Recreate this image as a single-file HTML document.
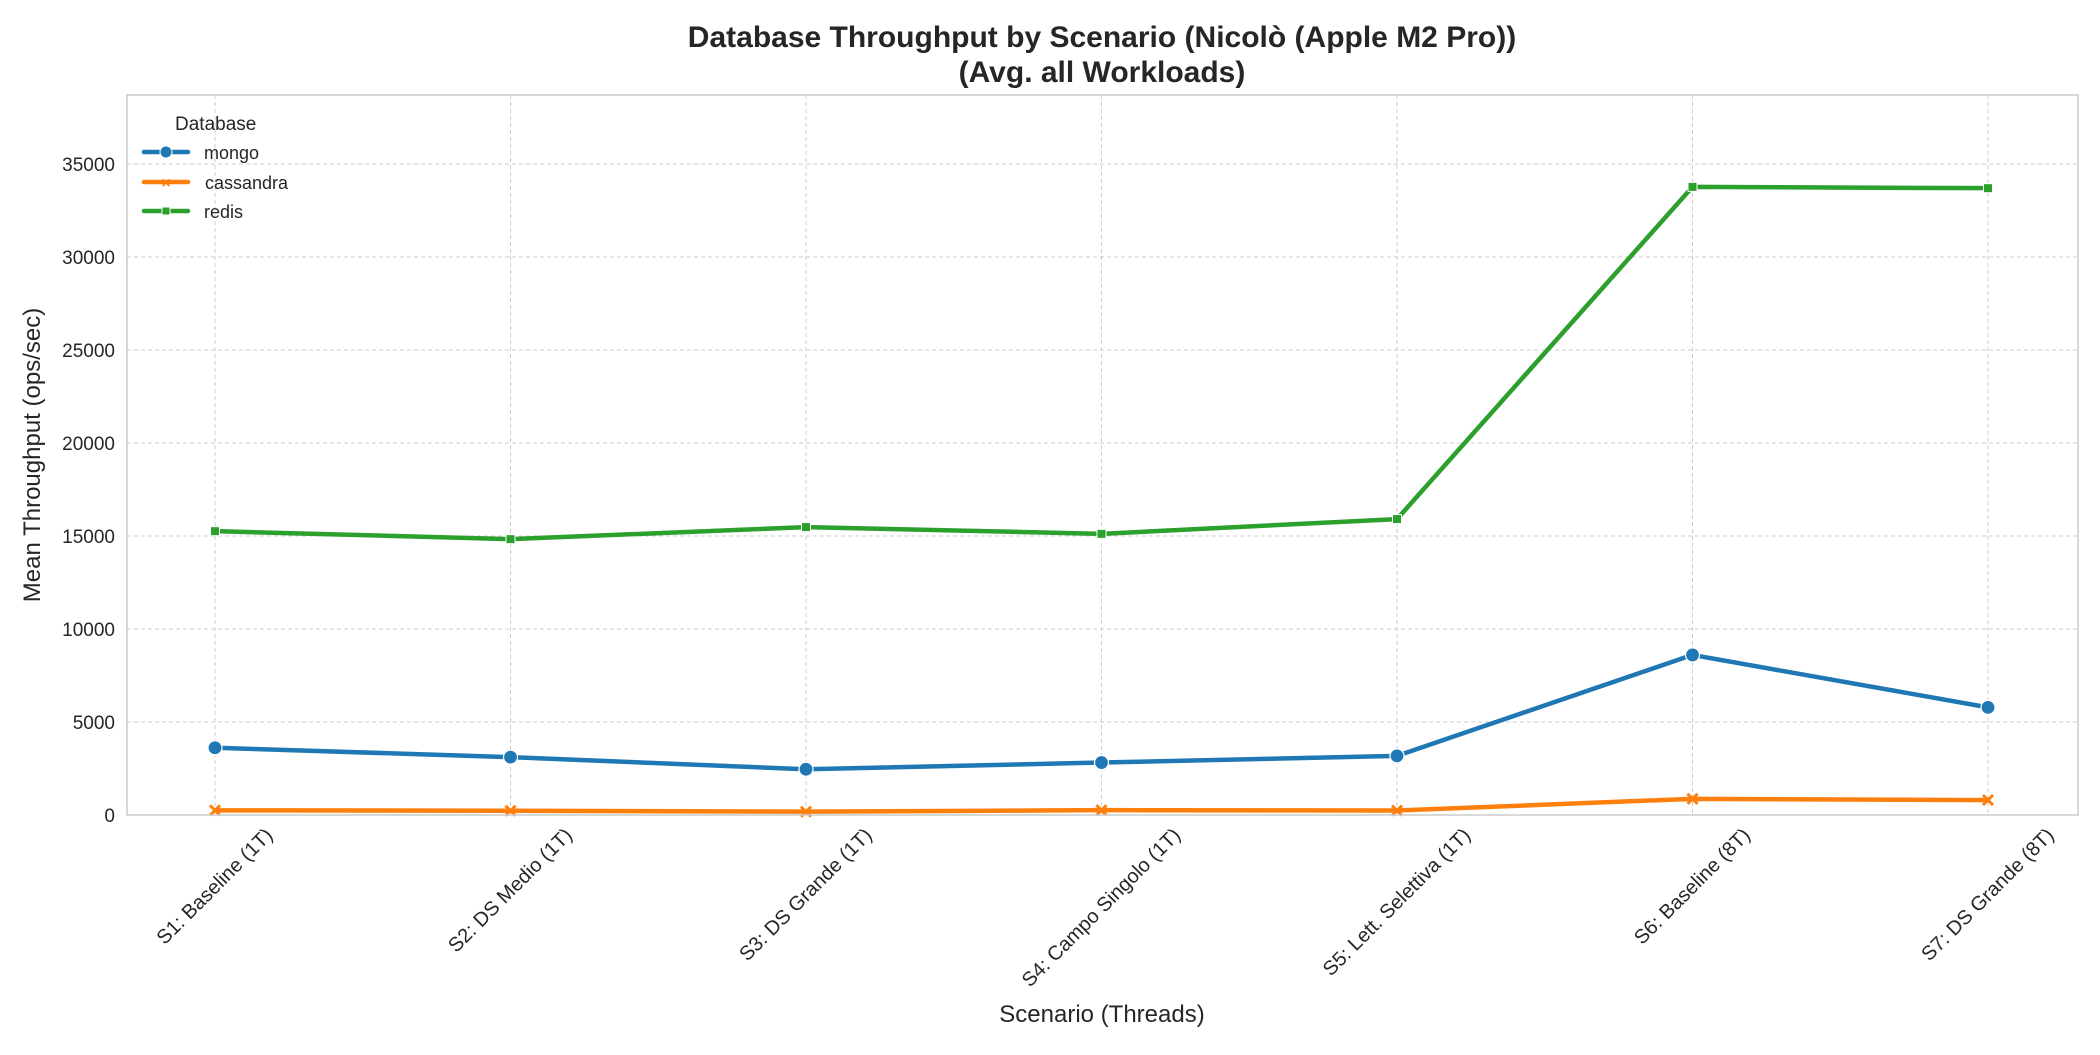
<!DOCTYPE html>
<html><head><meta charset="utf-8"><style>
body{margin:0;background:#fff;}
svg text{font-family:"Liberation Sans",sans-serif;fill:#262626;}
</style></head><body>
<svg id="chart" width="2100" height="1050" viewBox="0 0 2100 1050">
<text x="1102" y="47" text-anchor="middle" font-size="30" font-weight="bold">Database Throughput by Scenario (Nicolò (Apple M2 Pro))</text>
<text x="1102" y="82" text-anchor="middle" font-size="30" font-weight="bold">(Avg. all Workloads)</text>
<g id="grid"></g><g id="series"></g><g id="axes"></g>
<text x="1102" y="1022" text-anchor="middle" font-size="24">Scenario (Threads)</text>
<text transform="translate(40,455) rotate(-90)" text-anchor="middle" font-size="24">Mean Throughput (ops/sec)</text>
<g>
<text x="175" y="130" font-size="19">Database</text>
<g><line x1="144" y1="152" x2="188" y2="152" stroke="#1f77b4" stroke-width="4.5" stroke-linecap="round"/><circle cx="166" cy="152" r="6" fill="#1f77b4" stroke="#fff" stroke-width="1"/><text x="204" y="159" font-size="18">mongo</text></g>
<g><line x1="144" y1="182" x2="188" y2="182" stroke="#ff7f0e" stroke-width="4.5" stroke-linecap="round"/><text x="166" y="188" text-anchor="middle" font-size="16" font-weight="bold" style="fill:#ff7f0e">×</text><text x="205" y="189" font-size="18">cassandra</text></g>
<g><line x1="144" y1="211" x2="188" y2="211" stroke="#2ca02c" stroke-width="4.5" stroke-linecap="round"/><rect x="162" y="207" width="8" height="8" fill="#2ca02c" stroke="#fff" stroke-width="1"/><text x="204" y="218" font-size="18">redis</text></g>
</g>
</svg>
<script>
const categories=["S1: Baseline (1T)","S2: DS Medio (1T)","S3: DS Grande (1T)","S4: Campo Singolo (1T)","S5: Lett. Selettiva (1T)","S6: Baseline (8T)","S7: DS Grande (8T)"];
const mongo=[3616,3110,2460,2820,3180,8606,5786];
const cassandra=[250,230,180,260,240,870,800];
const redis=[15260,14830,15480,15115,15910,33770,33700];
const yTicks=[0,5000,10000,15000,20000,25000,30000,35000];
const L=127,R=2078,T=95,B=815,YMAX=38710;
const NS="http://www.w3.org/2000/svg";
const x=i=>215+i*(1988-215)/(categories.length-1);
const y=v=>B-(v/YMAX)*(B-T);
function mk(t,a,p){const e=document.createElementNS(NS,t);for(const k in a)e.setAttribute(k,a[k]);p.appendChild(e);return e;}
const grid=document.getElementById('grid'),axes=document.getElementById('axes'),ser=document.getElementById('series');
yTicks.forEach(v=>{
 const g=mk('line',{x1:L,x2:R,y1:y(v),y2:y(v),stroke:'#cccccc','stroke-width':1,'stroke-dasharray':'4,3'},grid);
 
 
 const t=mk('text',{x:L-12,y:y(v)+7,'text-anchor':'end','font-size':19},axes);t.textContent=v;
 
 
});
categories.forEach((c,i)=>{
 const g=mk('line',{x1:x(i),x2:x(i),y1:T,y2:B,stroke:'#cccccc','stroke-width':1,'stroke-dasharray':'4,3'},grid);
 
 
 const t=mk('text',{'text-anchor':'middle','dominant-baseline':'central','font-size':20},axes);t.textContent=c;
 
 
 const len=t.getComputedTextLength();
 const cy=B+10+(len+20)*0.707/2;
 t.setAttribute('transform',`translate(${x(i)},${cy}) rotate(-45)`);
});
const fr=mk('rect',{x:L,y:T,width:R-L,height:B-T,fill:'none',stroke:'#cccccc','stroke-width':1.5},axes);


function series(vals,col,name,marker){
 const p=mk('polyline',{points:vals.map((v,i)=>x(i)+','+y(v)).join(' '),fill:'none',stroke:col,'stroke-width':4.5,'stroke-linejoin':'round'},ser);
 
 
 vals.forEach((v,i)=>{
  let m;
  if(marker==='o')m=mk('circle',{cx:x(i),cy:y(v),r:7,fill:col,stroke:'#fff','stroke-width':1.2},ser);
  else if(marker==='s')m=mk('rect',{x:x(i)-4.5,y:y(v)-4.5,width:9,height:9,fill:col,stroke:'#fff','stroke-width':1},ser);
  else{m=mk('path',{d:`M${x(i)-5},${y(v)-5}L${x(i)+5},${y(v)+5}M${x(i)-5},${y(v)+5}L${x(i)+5},${y(v)-5}`,stroke:col,'stroke-width':3},ser);}
  
  
 });
}
series(cassandra,'#ff7f0e','cassandra','x');
series(mongo,'#1f77b4','mongo','o');
series(redis,'#2ca02c','redis','s');
</script>
</body></html>
